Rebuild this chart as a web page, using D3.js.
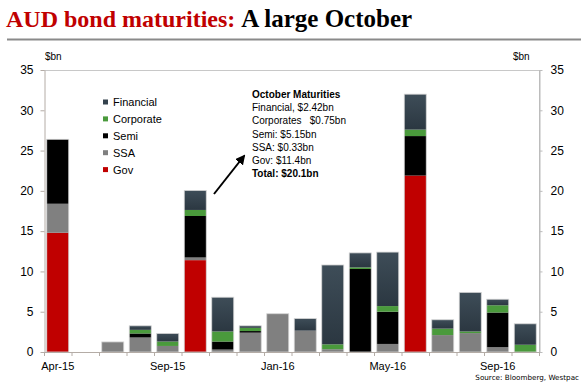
<!DOCTYPE html>
<html><head><meta charset="utf-8">
<script src="https://cdn.jsdelivr.net/npm/d3@7"></script>
<style>body{margin:0;background:#fff}svg{display:block}</style>
</head><body>
<svg id="c" width="588" height="384"></svg>
<script>
const months = ["May-15","Jun-15","Jul-15","Aug-15","Sep-15","Oct-15","Nov-15","Dec-15","Jan-16","Feb-16","Mar-16","Apr-16","May-16","Jun-16","Jul-16","Aug-16","Sep-16","Oct-16"];
const tickMonths = ["May-15","Sep-15","Jan-16","May-16","Sep-16"];
const tickLabels = ["Apr-15","Sep-15","Jan-16","May-16","Sep-16"];
const seriesNames = ["Gov","SSA","Semi","Corporate","Financial"];
const gov       = [14.8,0,0,0,0,11.4,0,0,0,0,0,0,0,21.9,0,0,0,0];
const ssa       = [3.6,0,1.25,1.8,0.75,0.33,0.3,2.4,4.75,2.65,0.35,0,1.0,0,2.1,2.35,0.6,0];
const semi      = [8.0,0,0,0.5,0,5.15,1.0,0.2,0,0,0,10.3,4.0,4.9,0,0,4.3,0];
const corporate = [0,0,0,0.45,0.55,0.75,1.25,0.4,0,0,0.6,0.2,0.7,0.8,0.8,0.2,0.9,0.9];
const financial = [0,0,0,0.5,1.0,2.42,4.25,0.25,0,1.5,9.85,1.8,6.7,4.4,1.1,4.85,0.75,2.6];
const yTicks = [0,5,10,15,20,25,30,35];
const legendOrder = ["Financial","Corporate","Semi","SSA","Gov"];
const annotation = ["October Maturities","Financial, $2.42bn","Corporates   $0.75bn","Semi: $5.15bn","SSA: $0.33bn","Gov: $11.4bn","Total: $20.1bn"];

const colors = {Gov:"#c00000",SSA:"#808080",Semi:"#000000",Corporate:"#4a9a3c",Financial:"url(#finGrad)"};
const legendColors = {Gov:"#c00000",SSA:"#808080",Semi:"#000000",Corporate:"#4a9a3c",Financial:"#34424d"};

const svg = d3.select("#c");
const defs = svg.append("defs");
const g1 = defs.append("linearGradient").attr("id","finGrad").attr("x1",0).attr("y1",0).attr("x2",0).attr("y2",1);
g1.append("stop").attr("offset","0%").attr("stop-color","#3e4d58");
g1.append("stop").attr("offset","100%").attr("stop-color","#2b3741");
const ah = defs.append("marker").attr("id","arr").attr("viewBox","0 0 10 10").attr("refX",8).attr("refY",5)
  .attr("markerWidth",5).attr("markerHeight",5).attr("orient","auto");
ah.append("path").attr("d","M0,0L10,5L0,10z").attr("fill","#000");

// Title
const title = svg.append("text").attr("x",6).attr("y",27)
  .attr("font-family","'Liberation Serif', 'Times New Roman', serif").attr("font-weight","bold").attr("font-size",24);
title.append("tspan").attr("fill","#c00000").text("AUD bond maturities: ");
title.append("tspan").attr("fill","#000").attr("font-size",25).text("A large October");
svg.append("line").attr("x1",7).attr("x2",581).attr("y1",39.5).attr("y2",39.5).attr("stroke","#8a8a8a").attr("stroke-width",2);

const L=44, R=539, T=70, B=352;
const x = d3.scaleBand().domain(months).range([L,R]).paddingInner(0.2).paddingOuter(0.1);
const y = d3.scaleLinear().domain([0,35]).range([B,T]);

const data = months.map((m,i)=>({month:m,Gov:gov[i],SSA:ssa[i],Semi:semi[i],Corporate:corporate[i],Financial:financial[i]}));
const stacked = d3.stack().keys(seriesNames)(data);

const font = "'Liberation Sans', Arial, sans-serif";

// bars
const barG = svg.append("g");
stacked.forEach(s=>{
  barG.selectAll(null).data(s.filter(d=>d[1]-d[0]>0)).join("rect")
    .attr("x",d=>x(d.data.month)).attr("width",x.bandwidth())
    .attr("y",d=>y(d[1])).attr("height",d=>y(d[0])-y(d[1]))
    .attr("fill",colors[s.key]);
});
// outline of each stack
barG.selectAll(null).data(data.filter(d=>seriesNames.some(k=>d[k]>0))).join("rect")
  .attr("x",d=>x(d.month)).attr("width",x.bandwidth())
  .attr("y",d=>y(d3.sum(seriesNames,k=>d[k]))).attr("height",d=>B-y(d3.sum(seriesNames,k=>d[k])))
  .attr("fill","none").attr("stroke","#d4d4d4").attr("stroke-width",0.8);

// plot frame
const axisCol = "#b4aca6";
svg.append("line").attr("x1",L).attr("x2",R).attr("y1",T+0.5).attr("y2",T+0.5).attr("stroke","#c8c8c8");
svg.append("line").attr("x1",R+0.5).attr("x2",R+0.5).attr("y1",T).attr("y2",B).attr("stroke","#bcbcbc");

// left axis
const yl = svg.append("g").attr("transform",`translate(${L+0.5},0)`)
  .call(d3.axisLeft(y).tickValues(yTicks).tickSize(4).tickSizeOuter(0).tickPadding(7));
yl.select(".domain").attr("stroke",axisCol);
yl.selectAll(".tick line").attr("stroke",axisCol);
yl.selectAll("text").attr("font-family",font).attr("font-size",12).attr("fill","#000");
// right axis
const yr = svg.append("g").attr("transform",`translate(${R+0.5},0)`)
  .call(d3.axisRight(y).tickValues(yTicks).tickSize(3).tickSizeOuter(0).tickPadding(8));
yr.select(".domain").attr("stroke","#bcbcbc");
yr.selectAll(".tick line").attr("stroke","#bcbcbc");
yr.selectAll("text").attr("font-family",font).attr("font-size",12).attr("fill","#000");

// bottom axis: boundary ticks
svg.append("line").attr("x1",L).attr("x2",R+1).attr("y1",B+0.5).attr("y2",B+0.5).attr("stroke",axisCol);
const step = x.step();
svg.append("g").selectAll("line").data(months.concat(["end"])).join("line")
  .attr("x1",(d,i)=>L+0.5+i*step).attr("x2",(d,i)=>L+0.5+i*step)
  .attr("y1",B).attr("y2",B+4).attr("stroke",axisCol);
svg.append("g").selectAll("text").data(tickMonths).join("text")
  .attr("x",d=>x(d)+x.bandwidth()/2).attr("y",370).attr("text-anchor","middle")
  .attr("font-family",font).attr("font-size",11).attr("fill","#000")
  .text((d,i)=>tickLabels[i]);

// units
svg.append("text").attr("x",45).attr("y",60).attr("font-family",font).attr("font-size",10).text("$bn");
svg.append("text").attr("x",513).attr("y",60).attr("font-family",font).attr("font-size",10).text("$bn");

// legend
const lg = svg.append("g");
legendOrder.forEach((k,i)=>{
  const yy = 102 + i*16.9;
  lg.append("rect").attr("x",103).attr("y",yy-2.5).attr("width",5).attr("height",5).attr("fill",legendColors[k]);
  lg.append("text").attr("x",113).attr("y",yy+4).attr("font-family",font).attr("font-size",11).attr("fill","#000").text(k);
});

// annotation
const an = svg.append("g");
annotation.forEach((t,i)=>{
  an.append("text").attr("x",252).attr("y",98 + i*13.2).attr("font-family",font).attr("font-size",10)
    .attr("font-weight",(i===0||i===annotation.length-1)?"bold":"normal").attr("fill","#000")
    .attr("xml:space","preserve").style("white-space","pre").text(t);
});
svg.append("line").attr("x1",214).attr("y1",194).attr("x2",244).attr("y2",156)
  .attr("stroke","#000").attr("stroke-width",2).attr("marker-end","url(#arr)");

// source
svg.append("text").attr("x",579).attr("y",380).attr("text-anchor","end")
  .attr("font-family","'DejaVu Sans', Verdana, sans-serif").attr("font-size",7.2).attr("fill","#000")
  .text("Source: Bloomberg, Westpac");
</script>
</body></html>
